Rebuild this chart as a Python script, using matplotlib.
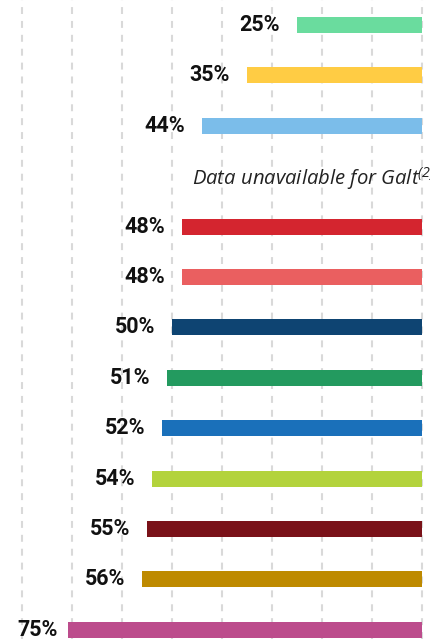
import matplotlib
matplotlib.use('Agg')
import matplotlib.pyplot as plt

# bar lengths (the last bar is drawn shorter than its label says)
values = [25, 35, 44, None, 48, 48, 50, 51, 52, 54, 55, 56, 70.8]
labels = ['25%', '35%', '44%', None, '48%', '48%', '50%', '51%', '52%', '54%', '55%', '56%', '75%']
colors = ['#6adc9e', '#ffcc44', '#7bbdea', None, '#d4252f', '#ea5f60', '#0e4472',
          '#239a5f', '#1a70ba', '#b3d33c', '#7a1219', '#be8a00', '#bc4c8c']
missing_note = r'Data unavailable for Galt$^{(2)}$'
grid_ticks = [0, 10, 20, 30, 40, 50, 60, 70, 80]

plt.rcParams['mathtext.fontset'] = 'custom'
plt.rcParams['mathtext.rm'] = 'Open Sans:italic'
plt.rcParams['mathtext.it'] = 'Open Sans:italic'
plt.rcParams['lines.scale_dashes'] = False

dpi = 100
fig = plt.figure(figsize=(4.31, 6.39), dpi=dpi)
ax = fig.add_axes([0, 0, 1, 1])

# 5 px per percent, zero at x=422px; rows 50.4px apart, first centred at y=25px
ax.set_xlim(422 / 5.0, -9 / 5.0)
ax.set_ylim((639 - 25) / 50.4, -25 / 50.4)

# dashed vertical grid
for g in grid_ticks:
    ax.axvline(g, color='#d9d9d9', linewidth=1.5, linestyle=(0, (5.0, 5.0)), zorder=0)

bar_h = 16 / 50.4
for i, v in enumerate(values):
    if v is None:
        ax.text(84.4 - 192 / 5.0, i + 0.05, missing_note, ha='left', va='center',
                fontsize=14.6, family='Open Sans', style='italic', color='#222222')
        continue
    ax.barh(i, v, height=bar_h, color=colors[i], zorder=2)
    gap = -10 if i == len(values) - 1 else -17
    ax.annotate(labels[i], xy=(v, i), xytext=(gap, 0), textcoords='offset pixels',
                ha='right', va='center', fontsize=15.5, fontweight='bold',
                family='Roboto', color='#111111')

ax.axis('off')
fig.savefig('out.png', dpi=dpi)
